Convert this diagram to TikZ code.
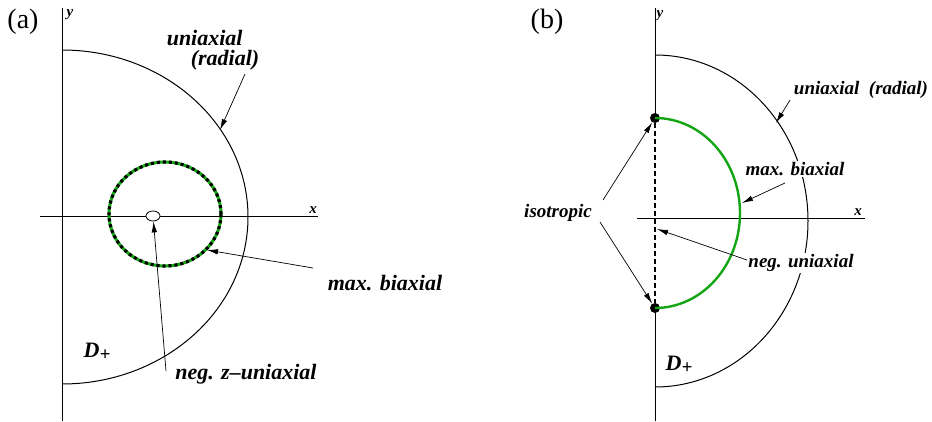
\documentclass[tikz,border=0pt]{standalone}
\usepackage{fontspec}
\setmainfont{Liberation Serif}
\usepackage{xcolor}
\usetikzlibrary{arrows.meta,shapes.geometric}
\definecolor{bgreen}{RGB}{20,165,20}
\newcommand{\dplus}{D\raisebox{-0.35ex}{\fontsize{19}{19}\selectfont +}}

\begin{document}
\begin{tikzpicture}[x=1pt,y=1pt,
  axis/.style={line width=0.8pt},
  curve/.style={line width=1pt},
  lab/.style={font=\rmfamily\bfseries\itshape\fontsize{22}{20}\selectfont, fill=white, inner sep=1pt},
  labb/.style={lab, font=\rmfamily\bfseries\itshape\fontsize{19}{22}\selectfont},
  arr/.style={-{Latex[length=11pt,width=5.5pt]}, line width=0.7pt},
  panel/.style={font=\rmfamily\fontsize{28}{30}\selectfont, inner sep=0pt},
  ax/.style={font=\rmfamily\bfseries\itshape\fontsize{15}{17}\selectfont, inner sep=0pt},
  dot/.style={circle, fill, inner sep=0pt, minimum size=10pt}
]
\useasboundingbox (0,0) rectangle (932,421);

% panel (a)
\node[panel] (pa) at (23,399) {(a)};
\coordinate (yTopA) at (62,413);
\coordinate (yBotA) at (62,0);
\coordinate (xLeftA) at (40,205);
\coordinate (xRightA) at (318,205);
\draw[axis] (yTopA) -- (yBotA);
\draw[axis] (xLeftA) -- (xRightA);
\node[ax] (ya) at (70,406) {y};
\node[ax] (xa) at (313,211) {x};
\draw[curve] (62,371) arc[start angle=90, end angle=-90, x radius=186, y radius=167];
\draw[bgreen, line width=3pt] (165,207) ellipse[x radius=56, y radius=52];
\draw[line width=3.2pt, dash pattern=on 3pt off 3pt] (165,207) ellipse[x radius=56, y radius=52];
\node[draw, fill=white, ellipse, minimum width=14pt, minimum height=10pt, inner sep=0pt, line width=0.8pt] (zdot) at (153,205) {};

\coordinate (tipUniA) at (220,291);
\coordinate (tipMaxA) at (207,171);
\node[lab, align=left, fill=none] (uniA) at (213,371) {uniaxial\\\hspace*{24pt}(radial)};
\node[lab] (maxA) at (385,138) {max. biaxial};
\node[lab] (negzA) at (246,47) {neg. z--uniaxial};
\node[lab, fill=none] (dA) at (97,69) {\dplus};
\draw[arr] ([shift={(32,-24)}]uniA.center) -- (tipUniA);
\draw[arr] ([shift={(-72,15)}]maxA.center) -- (tipMaxA);
\draw[arr] ([shift={(-80,3)}]negzA.center) -- (zdot);

% panel (b)
\node[panel] (pb) at (547,399) {(b)};
\coordinate (yTopB) at (655,413);
\coordinate (yBotB) at (655,0);
\coordinate (xLeftB) at (637,203);
\coordinate (xRightB) at (865,203);
\node[dot] (isoUp) at (655,303) {};
\node[dot] (isoLo) at (655,113) {};
\draw[axis] (yTopB) -- (isoUp.center);
\draw[axis] (isoLo.center) -- (yBotB);
\draw[line width=1.2pt, dash pattern=on 5pt off 3pt] (isoUp) -- (isoLo);
\draw[axis] (xLeftB) -- (xRightB);
\node[ax] (yb) at (660,405) {y};
\node[ax] (xb) at (858,209) {x};
\draw[curve] (655,366) arc[start angle=90, end angle=-90, x radius=153, y radius=166];
\draw[bgreen, line width=2.4pt] (655,303) arc[start angle=90, end angle=-90, x radius=85, y radius=95];

\coordinate (tipUniB) at (776,298);
\coordinate (tipMaxB) at (742,218);
\coordinate (tipNegB) at (657,192);
\node[labb] (uniB) at (861,331) {uniaxial\ \ (radial)};
\node[labb] (maxB) at (795,252) {max. biaxial};
\node[labb] (negB) at (801,158) {neg. uniaxial};
\node[labb] (isoB) at (558,208) {isotropic};
\node[lab, fill=none] (dB) at (679,56) {\dplus};
\draw[arr] ([shift={(-71,-10)}]uniB.center) -- (tipUniB);
\draw[arr] ([shift={(-10,-14)}]maxB.center) -- (tipMaxB);
\draw[arr] ([shift={(-54,3)}]negB.center) -- (tipNegB);
\draw[arr] ([shift={(45,13)}]isoB.center) -- (isoUp);
\draw[arr] ([shift={(42,-9)}]isoB.center) -- (isoLo);
\end{tikzpicture}
\end{document}
